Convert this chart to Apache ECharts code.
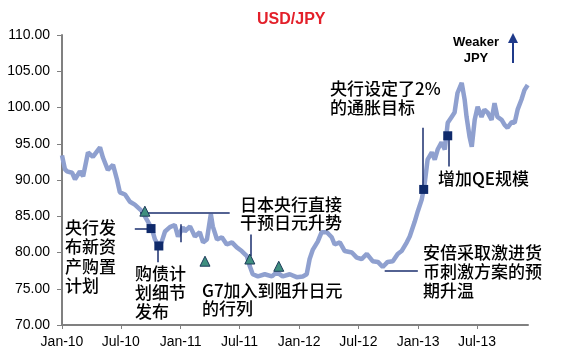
<!DOCTYPE html>
<html>
<head>
<meta charset="utf-8">
<script src="https://cdn.jsdelivr.net/npm/echarts@6/dist/echarts.min.js"></script>
<style>html,body{margin:0;padding:0;background:#fff}#c{width:562px;height:364px}</style>
</head>
<body>
<div id="c"></div>
<script>
var dates = ['2010-01-01','2010-01-10','2010-01-16','2010-02-01','2010-02-10','2010-02-25','2010-03-07','2010-03-22','2010-04-06','2010-04-28','2010-05-07','2010-05-22','2010-06-07','2010-06-19','2010-06-28','2010-07-14','2010-07-29','2010-08-13','2010-09-04','2010-09-22','2010-10-05','2010-10-14','2010-10-26','2010-11-04','2010-11-14','2010-11-29','2010-12-14','2010-12-24',
'2011-01-08','2011-01-14','2011-01-30','2011-02-14','2011-03-01','2011-03-11','2011-03-23','2011-04-04','2011-04-10','2011-04-23','2011-05-08','2011-05-23','2011-06-08','2011-06-23','2011-07-08','2011-07-24','2011-08-02','2011-08-11','2011-08-27','2011-09-17','2011-10-09','2011-10-24','2011-11-11','2011-12-03','2011-12-24',
'2012-01-12','2012-01-24','2012-02-02','2012-02-12','2012-02-27','2012-03-10','2012-03-26','2012-04-10','2012-04-19','2012-05-05','2012-05-20','2012-06-11','2012-06-26','2012-07-11','2012-07-27','2012-08-14','2012-08-30','2012-09-14','2012-09-29','2012-10-15','2012-10-30','2012-11-11','2012-11-27','2012-12-06','2012-12-21','2012-12-31',
'2013-01-12','2013-01-21','2013-01-30','2013-02-12','2013-02-21','2013-03-02','2013-03-14','2013-03-24','2013-04-02','2013-04-14','2013-04-23','2013-05-02','2013-05-15','2013-05-24','2013-05-30','2013-06-08','2013-06-15','2013-06-24','2013-07-03','2013-07-15','2013-07-24','2013-08-03','2013-08-15','2013-08-24','2013-09-02','2013-09-15','2013-09-24','2013-10-03','2013-10-16','2013-10-25','2013-11-03','2013-11-15','2013-11-24','2013-12-04'];
var usdjpy = [93.4,91.5,91.2,91.0,90.1,91.2,90.5,93.8,93.2,94.5,93.1,91.4,92.1,90.1,88.3,88.0,87.0,86.6,85.7,84.3,83.2,81.8,80.9,81.5,82.9,83.5,83.8,82.2,
83.5,82.9,83.6,82.2,82.8,81.4,81.8,85.3,83.6,81.8,82.1,81.1,81.4,80.7,80.2,79.5,78.1,77.0,76.7,77.0,76.7,77.3,76.7,77.0,76.6,
76.7,77.0,79.1,80.4,81.5,82.8,82.8,82.1,81.1,81.4,80.2,80.0,79.3,79.1,79.8,78.8,78.7,78.0,78.7,78.8,79.8,80.2,81.4,82.2,84.2,85.7,
87.3,89.5,92.8,93.8,92.8,94.2,95.2,94.2,97.9,98.7,99.3,102.0,103.4,101.1,98.7,96.0,94.6,98.3,100.1,98.7,99.7,99.3,98.3,100.6,98.7,98.3,97.6,97.2,98.0,97.9,99.7,101.1,102.4,103.1];

var policyDates = ['2010-10-02','2010-10-26','2013-01-18','2013-04-02'];
var policyValues = [83.3,80.9,88.7,96.1];
var interventionDates = ['2010-09-13','2011-03-17','2011-08-02','2011-10-30'];
var interventionValues = [85.7,78.8,79.1,78.1];

var tickDates = ['2010-01-01','2010-07-01','2011-01-01','2011-07-01','2012-01-01','2012-07-01','2013-01-01','2013-07-01'];
var tickLabels = ['Jan-10','Jul-10','Jan-11','Jul-11','Jan-12','Jul-12','Jan-13','Jul-13'];

// leader lines: [startDate, startValue, endDate, endValue]
var leaders = [
  ['2010-08-29',85.55,'2011-06-01',85.55],
  ['2010-08-13',83.33,'2010-09-28',83.33],
  ['2010-10-23',80.86,'2010-10-23',78.66],
  ['2011-01-02',83.88,'2011-01-02',81.4],
  ['2011-08-05',82.5,'2011-08-05',79.5],
  ['2013-04-05',95.84,'2013-04-05',91.86],
  ['2013-01-15',97.2,'2013-01-15',89.1],
  ['2012-09-20',77.42,'2012-12-31',77.42]
];

function ts(s){var p=s.split('-');return Date.UTC(+p[0],+p[1]-1,+p[2]);}

var lineData = dates.map(function(d,i){return [ts(d), usdjpy[i]];});
var policyData = policyDates.map(function(d,i){return [ts(d), policyValues[i]];});
var interData = interventionDates.map(function(d,i){return [ts(d), interventionValues[i]];});
var tickTs = tickDates.map(ts);
var leaderData = leaders.map(function(l){return [{coord:[ts(l[0]),l[1]]},{coord:[ts(l[2]),l[3]]}];});

var cjk = '"Noto Sans CJK SC", sans-serif';
function txt(left, top, text, lh){
  return {type:'text', left:left, top:top, z:100, style:{text:text, fontSize:17, fontWeight:500, fontFamily:cjk, lineHeight:lh||19, fill:'#000'}};
}

var chart = echarts.init(document.getElementById('c'));
chart.setOption({
  animation:false,
  title:{text:'USD/JPY', left:257, top:12, padding:0, textStyle:{color:'#E3202A', fontSize:16, fontWeight:'bold', fontFamily:'Arial, "Liberation Sans"'}},
  grid:{left:62, right:34, top:35, bottom:39, containLabel:false},
  xAxis:{type:'value', min:ts('2010-01-01'), max:ts('2013-12-05'), scale:true,
    axisLine:{lineStyle:{color:'#808080', width:2}},
    axisTick:{show:true, length:4, lineStyle:{color:'#808080'}, customValues:tickTs},
    axisLabel:{customValues:tickTs, fontSize:14, color:'#000', fontFamily:'Arial, "Liberation Sans"', margin:10,
      formatter:function(v){var i=tickTs.indexOf(v); return i>=0?tickLabels[i]:'';}},
    splitLine:{show:false}},
  yAxis:{type:'value', min:70, max:110, interval:5,
    axisLine:{show:true, lineStyle:{color:'#808080', width:2}},
    axisTick:{show:true, length:5, lineStyle:{color:'#808080'}},
    axisLabel:{fontSize:14, color:'#000', fontFamily:'Arial, "Liberation Sans"', margin:12, formatter:function(v){return v.toFixed(2);}},
    splitLine:{show:false}},
  series:[
    {type:'line', data:lineData, showSymbol:false, lineStyle:{width:4.5, color:'#8FA0CF'}, z:2},
    {type:'scatter', data:[], z:3,
      markLine:{silent:true, symbol:'none', label:{show:false}, lineStyle:{color:'#1A2E6E', width:1.5, type:'solid'}, data:leaderData}},
    {type:'scatter', data:policyData, symbol:'rect', symbolSize:9, itemStyle:{color:'#0F2A6B', opacity:1}, z:5},
    {type:'scatter', data:interData, symbol:'triangle', symbolSize:10, itemStyle:{color:'#3F8F7F', borderColor:'#1B3A5A', borderWidth:1, opacity:1}, z:5}
  ],
  graphic:[
    txt(65,218,'央行发\n布新资\n产购置\n计划',19.3),
    txt(135,264,'购债计\n划细节\n发布',19),
    txt(202,281,'G7加入到阻升日元\n的行列',18.5),
    txt(240,196,'日本央行直接\n干预日元升势',18),
    txt(330,79,'央行设定了2%\n的通胀目标',19),
    txt(438,169,'增加QE规模',19),
    txt(423,243,'安倍采取激进货\n币刺激方案的预\n期升温',19),
    {type:'text', x:476, y:34, z:100, style:{text:'Weaker\nJPY', fontSize:13, fontWeight:'bold', fontFamily:'Arial, "Liberation Sans"', lineHeight:16, fill:'#000', align:'center', verticalAlign:'top'}},
    {type:'line', z:100, shape:{x1:513, y1:63, x2:513, y2:42}, style:{stroke:'#1F3A8A', lineWidth:2}},
    {type:'polygon', z:100, shape:{points:[[508,43],[518,43],[513,33]]}, style:{fill:'#1F3A8A'}}
  ]
});
</script>
</body>
</html>
